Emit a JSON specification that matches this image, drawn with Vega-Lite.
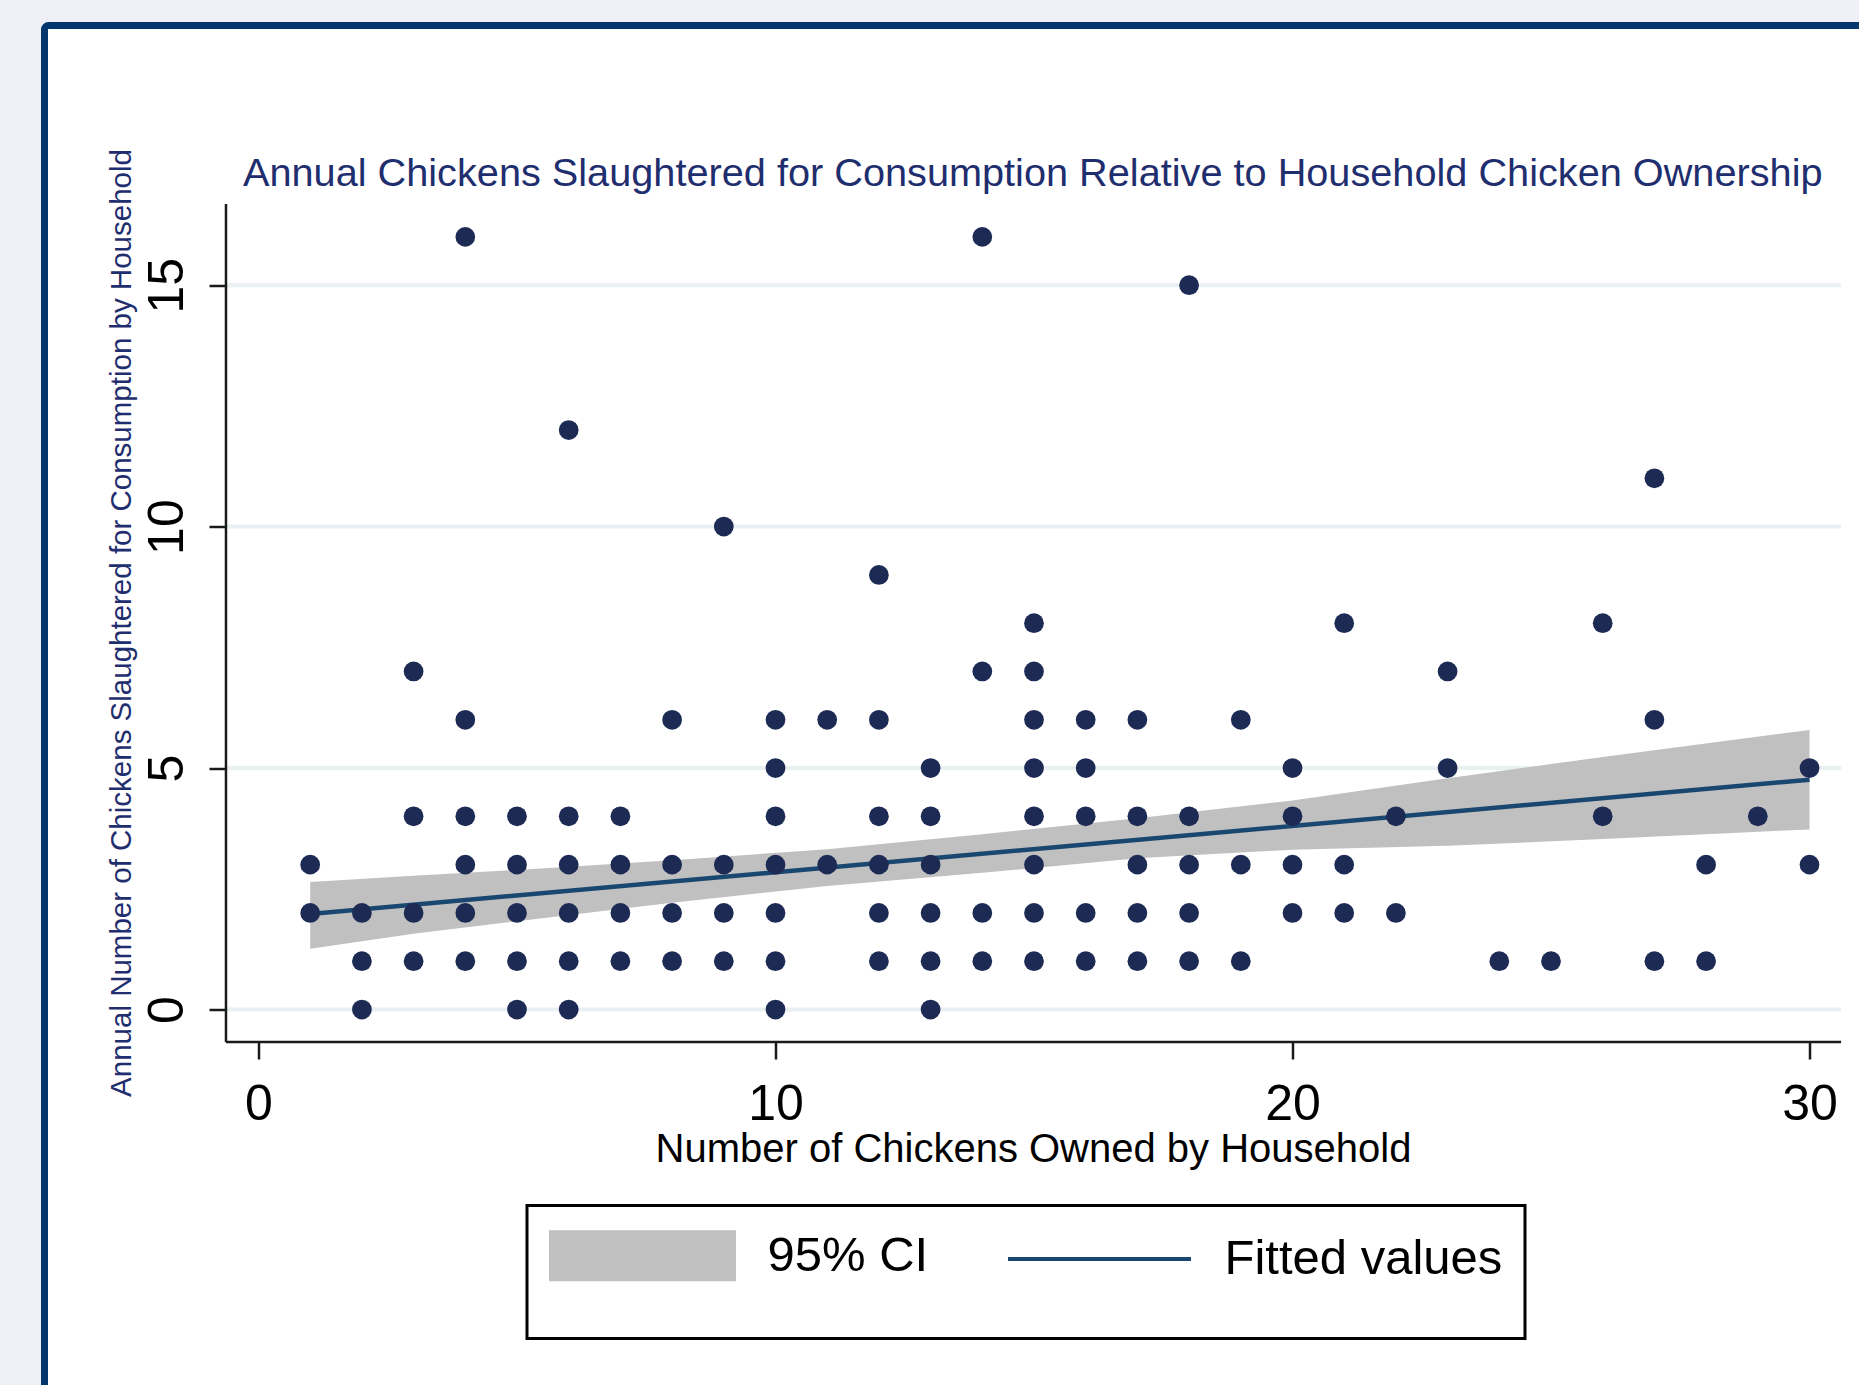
{
  "$schema": "https://vega.github.io/schema/vega-lite/v6.json",
  "width": 1839.5,
  "height": 1379.5,
  "autosize": {"type": "none"},
  "padding": {"left": 44.5, "top": 25.5, "right": 0, "bottom": 0},
  "background": "#eef0f5",
  "view": {"stroke": "#02366c", "strokeWidth": 7, "fill": "white", "cornerRadius": 4},
  "title": {
    "text": "Annual Chickens Slaughtered for Consumption Relative to Household Chicken Ownership",
    "anchor": "middle", "frame": "group", "dx": 68.5, "offset": -200.5,
    "fontSize": 39.7, "font": "Liberation Sans", "fontWeight": "normal", "color": "#1f2e6e", "baseline": "alphabetic"
  },
  "datasets": {
    "pts": [
      {"x":1,"y":3},{"x":1,"y":2},
      {"x":2,"y":2},{"x":2,"y":1},{"x":2,"y":0},
      {"x":3,"y":7},{"x":3,"y":4},{"x":3,"y":2},{"x":3,"y":1},
      {"x":4,"y":16},{"x":4,"y":6},{"x":4,"y":4},{"x":4,"y":3},{"x":4,"y":2},{"x":4,"y":1},
      {"x":5,"y":4},{"x":5,"y":3},{"x":5,"y":2},{"x":5,"y":1},{"x":5,"y":0},
      {"x":6,"y":12},{"x":6,"y":4},{"x":6,"y":3},{"x":6,"y":2},{"x":6,"y":1},{"x":6,"y":0},
      {"x":7,"y":4},{"x":7,"y":3},{"x":7,"y":2},{"x":7,"y":1},
      {"x":8,"y":6},{"x":8,"y":3},{"x":8,"y":2},{"x":8,"y":1},
      {"x":9,"y":10},{"x":9,"y":3},{"x":9,"y":2},{"x":9,"y":1},
      {"x":10,"y":6},{"x":10,"y":5},{"x":10,"y":4},{"x":10,"y":3},{"x":10,"y":2},{"x":10,"y":1},{"x":10,"y":0},
      {"x":11,"y":6},{"x":11,"y":3},
      {"x":12,"y":9},{"x":12,"y":6},{"x":12,"y":4},{"x":12,"y":3},{"x":12,"y":2},{"x":12,"y":1},
      {"x":13,"y":5},{"x":13,"y":4},{"x":13,"y":3},{"x":13,"y":2},{"x":13,"y":1},{"x":13,"y":0},
      {"x":14,"y":16},{"x":14,"y":7},{"x":14,"y":2},{"x":14,"y":1},
      {"x":15,"y":8},{"x":15,"y":7},{"x":15,"y":6},{"x":15,"y":5},{"x":15,"y":4},{"x":15,"y":3},{"x":15,"y":2},{"x":15,"y":1},
      {"x":16,"y":6},{"x":16,"y":5},{"x":16,"y":4},{"x":16,"y":2},{"x":16,"y":1},
      {"x":17,"y":6},{"x":17,"y":4},{"x":17,"y":3},{"x":17,"y":2},{"x":17,"y":1},
      {"x":18,"y":15},{"x":18,"y":4},{"x":18,"y":3},{"x":18,"y":2},{"x":18,"y":1},
      {"x":19,"y":6},{"x":19,"y":3},{"x":19,"y":1},
      {"x":20,"y":5},{"x":20,"y":4},{"x":20,"y":3},{"x":20,"y":2},
      {"x":21,"y":8},{"x":21,"y":3},{"x":21,"y":2},
      {"x":22,"y":4},{"x":22,"y":2},
      {"x":23,"y":7},{"x":23,"y":5},
      {"x":24,"y":1},
      {"x":25,"y":1},
      {"x":26,"y":8},{"x":26,"y":4},
      {"x":27,"y":11},{"x":27,"y":6},{"x":27,"y":1},
      {"x":28,"y":3},{"x":28,"y":1},
      {"x":29,"y":4},
      {"x":30,"y":5},{"x":30,"y":3}
    ],
    "band": [
      {"x":1,"lo":1.26,"hi":2.64},
      {"x":3,"lo":1.57,"hi":2.77},
      {"x":5,"lo":1.83,"hi":2.89},
      {"x":8,"lo":2.21,"hi":3.09},
      {"x":11,"lo":2.56,"hi":3.32},
      {"x":14,"lo":2.83,"hi":3.63},
      {"x":17,"lo":3.13,"hi":3.96},
      {"x":20,"lo":3.31,"hi":4.33},
      {"x":23,"lo":3.39,"hi":4.79},
      {"x":26,"lo":3.53,"hi":5.23},
      {"x":30,"lo":3.73,"hi":5.79}
    ],
    "fit": [
      {"x":1,"fit":1.98},
      {"x":30,"fit":4.76}
    ],
    "grid": [{"g":0},{"g":5},{"g":10},{"g":15}],
    "legend": [{"series":"95% CI"},{"series":"Fitted values"}]
  },
  "layer": [
    {
      "data": {"name": "grid"},
      "mark": {"type": "rule", "color": "#e8f0f2", "strokeWidth": 4},
      "encoding": {
        "y": {"field": "g", "type": "quantitative", "title": "Annual Number of Chickens Slaughtered for Consumption by Household", "scale": {"domain": [-8.19, 20.377], "nice": false, "zero": false}},
        "x": {"datum": -0.629, "type": "quantitative", "title": "Number of Chickens Owned by Household", "scale": {"domain": [-4.1393, 31.441], "nice": false, "zero": false}},
        "x2": {"datum": 30.61}
      }
    },
    {
      "data": {"name": "band"},
      "mark": {"type": "area", "color": "#c0c0c0", "opacity": 1},
      "encoding": {
        "x": {"field": "x", "type": "quantitative", "title": "Number of Chickens Owned by Household", "scale": {"domain": [-4.1393, 31.441], "nice": false, "zero": false}},
        "y": {"field": "lo", "type": "quantitative", "title": "Annual Number of Chickens Slaughtered for Consumption by Household", "scale": {"domain": [-8.19, 20.377], "nice": false, "zero": false}},
        "y2": {"field": "hi"}
      }
    },
    {
      "data": {"name": "fit"},
      "mark": {"type": "line", "color": "#1a476f", "strokeWidth": 4.5},
      "encoding": {
        "x": {"field": "x", "type": "quantitative", "title": "Number of Chickens Owned by Household", "scale": {"domain": [-4.1393, 31.441], "nice": false, "zero": false}},
        "y": {"field": "fit", "type": "quantitative", "title": "Annual Number of Chickens Slaughtered for Consumption by Household", "scale": {"domain": [-8.19, 20.377], "nice": false, "zero": false}}
      }
    },
    {
      "data": {"values": [{}]},
      "mark": {"type": "rule", "color": "#1a1a1a", "strokeWidth": 2.5},
      "encoding": {
        "x": {"datum": -0.629, "type": "quantitative", "title": "Number of Chickens Owned by Household", "scale": {"domain": [-4.1393, 31.441], "nice": false, "zero": false}},
        "y": {"datum": -0.673, "type": "quantitative", "title": "Annual Number of Chickens Slaughtered for Consumption by Household", "scale": {"domain": [-8.19, 20.377], "nice": false, "zero": false}},
        "y2": {"datum": 16.68}
      }
    },
    {
      "data": {"values": [{}]},
      "mark": {"type": "rule", "color": "#1a1a1a", "strokeWidth": 2.5},
      "encoding": {
        "y": {"datum": -0.673, "type": "quantitative", "title": "Annual Number of Chickens Slaughtered for Consumption by Household", "scale": {"domain": [-8.19, 20.377], "nice": false, "zero": false}},
        "x": {"datum": -0.629, "type": "quantitative", "title": "Number of Chickens Owned by Household", "scale": {"domain": [-4.1393, 31.441], "nice": false, "zero": false}},
        "x2": {"datum": 30.61}
      }
    },
    {
      "data": {"name": "pts"},
      "mark": {"type": "point", "filled": true, "size": 390, "color": "#1c2a54", "opacity": 1},
      "encoding": {
        "x": {
          "field": "x", "type": "quantitative", "title": "Number of Chickens Owned by Household",
          "scale": {"domain": [-4.1393, 31.441], "nice": false, "zero": false},
          "axis": {
            "orient": "bottom", "offset": -363, "values": [0, 10, 20, 30], "domain": false, "grid": false,
            "tickSize": 17, "tickWidth": 2.5, "tickColor": "#1a1a1a",
            "labelFontSize": 50, "labelFont": "Liberation Sans", "labelColor": "black", "labelPadding": 20.5,
            "labelBaseline": "top", "labelFlush": false, "labelOverlap": false,
            "title": "Number of Chickens Owned by Household", "titleFontSize": 40, "titleFont": "Liberation Sans",
            "titleFontWeight": "normal", "titleColor": "black", "titleBaseline": "alphabetic", "titleAlign": "center",
            "titleX": 988.5, "titleY": 119.7
          }
        },
        "y": {
          "field": "y", "type": "quantitative", "title": "Annual Number of Chickens Slaughtered for Consumption by Household",
          "scale": {"domain": [-8.19, 20.377], "nice": false, "zero": false},
          "axis": {
            "orient": "left", "offset": -181.5, "values": [0, 5, 10, 15], "domain": false, "grid": false,
            "tickSize": 17, "tickWidth": 2.5, "tickColor": "#1a1a1a",
            "labelAngle": -90, "labelAlign": "center", "labelBaseline": "alphabetic", "labelPadding": 27,
            "labelFontSize": 50, "labelFont": "Liberation Sans", "labelColor": "black", "labelFlush": false, "labelOverlap": false,
            "title": "Annual Number of Chickens Slaughtered for Consumption by Household", "titleFontSize": 29.5,
            "titleFont": "Liberation Sans", "titleFontWeight": "normal", "titleColor": "#1f2e6e", "titleAngle": -90,
            "titleAlign": "center", "titleBaseline": "alphabetic", "titleX": -96, "titleY": 597
          }
        }
      }
    },
    {
      "data": {"name": "legend"},
      "mark": {"type": "point", "filled": true, "opacity": 0},
      "encoding": {
        "fill": {
          "field": "series", "type": "nominal",
          "scale": {"domain": ["95% CI", "Fitted values"], "range": ["#c0c0c0", "#1a476f"]},
          "legend": {
            "orient": "none", "legendX": 482.5, "legendY": 1180, "direction": "horizontal",
            "title": " ", "titleOrient": "bottom", "titleFontSize": 22, "titlePadding": 8,
            "strokeColor": "black", "fillColor": "white", "padding": 22,
            "symbolSize": 2704, "symbolStrokeWidth": 4, "symbolOpacity": 1, "symbolOffset": 65.5,
            "labelFontSize": 49, "labelFont": "Liberation Sans", "labelColor": "black", "labelOffset": 97,
            "columnPadding": 71, "labelLimit": 1000
          }
        },
        "stroke": {
          "field": "series", "type": "nominal",
          "scale": {"domain": ["95% CI", "Fitted values"], "range": ["#c0c0c0", "#1a476f"]},
          "legend": {
            "orient": "none", "legendX": 482.5, "legendY": 1180, "direction": "horizontal",
            "title": " ", "titleOrient": "bottom", "titleFontSize": 22, "titlePadding": 8,
            "strokeColor": "black", "fillColor": "white", "padding": 22,
            "symbolSize": 2704, "symbolStrokeWidth": 4, "symbolOpacity": 1, "symbolOffset": 65.5,
            "labelFontSize": 49, "labelFont": "Liberation Sans", "labelColor": "black", "labelOffset": 97,
            "columnPadding": 71, "labelLimit": 1000
          }
        },
        "shape": {
          "field": "series", "type": "nominal",
          "scale": {"domain": ["95% CI", "Fitted values"], "range": ["M-3.519,-0.904H3.519V0.904H-3.519Z", "M-3.519,0H3.519"]},
          "legend": {
            "orient": "none", "legendX": 482.5, "legendY": 1180, "direction": "horizontal",
            "title": " ", "titleOrient": "bottom", "titleFontSize": 22, "titlePadding": 8,
            "strokeColor": "black", "fillColor": "white", "padding": 22,
            "symbolSize": 2704, "symbolStrokeWidth": 4, "symbolOpacity": 1, "symbolOffset": 65.5,
            "labelFontSize": 49, "labelFont": "Liberation Sans", "labelColor": "black", "labelOffset": 97,
            "columnPadding": 71, "labelLimit": 1000
          }
        }
      }
    }
  ],
  "config": {
    "font": "Liberation Sans",
    "view": {"stroke": "#02366c", "strokeWidth": 7, "fill": "white", "cornerRadius": 4},
    "legend": {"strokeWidth": 3}
  }
}
